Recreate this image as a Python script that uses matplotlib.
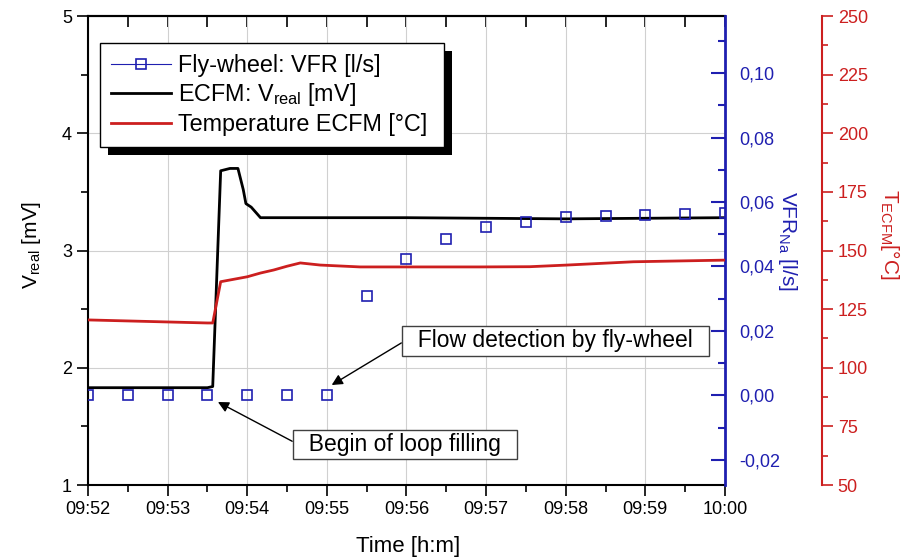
import numpy as np
import pandas as pd
import matplotlib
matplotlib.use('Agg')
import matplotlib.pyplot as plt
import matplotlib.dates as mdates
import matplotlib.ticker as mticker
from matplotlib.lines import Line2D
from matplotlib.patches import Rectangle

plt.rcParams['font.family'] = ['Liberation Sans', 'DejaVu Sans']
plt.rcParams['mathtext.fontset'] = 'custom'
plt.rcParams['mathtext.rm'] = 'Liberation Sans'
plt.rcParams['mathtext.it'] = 'Liberation Sans:italic'

BLUE = '#1f1fb0'
RED = '#cc1f1f'

# ECFM voltage signal [mV]
v_time = ['09:52:00', '09:53:30', '09:53:34', '09:53:40', '09:53:47', '09:53:53',
          '09:53:57', '09:53:59', '09:54:03', '09:54:10', '09:56:00', '09:58:00', '10:00:00']
v_real = [1.83, 1.83, 1.84, 3.68, 3.70, 3.70, 3.52, 3.40, 3.37, 3.28, 3.28, 3.27, 3.28]

# ECFM temperature [degC]
t_time = ['09:52:00', '09:53:30', '09:53:34', '09:53:40', '09:54:00', '09:54:10', '09:54:20',
          '09:54:30', '09:54:40', '09:54:55', '09:55:25', '09:56:55', '09:57:33', '09:58:01',
          '09:58:51', '10:00:00']
t_ecfm = [120.4, 119.1, 119.1, 136.7, 138.8, 140.4, 141.7, 143.3, 144.7, 143.8, 143.0,
          143.0, 143.1, 143.8, 145.2, 145.9]

# fly-wheel volume flow rate [l/s], one reading every 30 s
f_time = ['09:52:00', '09:52:30', '09:53:00', '09:53:30', '09:54:00', '09:54:30',
          '09:55:00', '09:55:30', '09:56:00', '09:56:30', '09:57:00', '09:57:30',
          '09:58:00', '09:58:30', '09:59:00', '09:59:30', '10:00:00']
f_vfr = [0.0, 0.0, 0.0, 0.0, 0.0, 0.0, 0.0, 0.0307, 0.0422, 0.0485, 0.0522, 0.0539,
         0.0552, 0.0557, 0.0560, 0.0562, 0.0565]

vt = pd.to_datetime(v_time, format='%H:%M:%S')
tt = pd.to_datetime(t_time, format='%H:%M:%S')
ft = pd.to_datetime(f_time, format='%H:%M:%S')

fig = plt.figure(figsize=(9.06, 5.6), dpi=100)
ax = fig.add_axes([0.0971, 0.1339, 0.7031, 0.8375])
ax2 = ax.twinx()
ax3 = ax.twinx()

ax.plot(vt, v_real, color='black', lw=2)
ax2.plot(ft, f_vfr, ls='none', marker='s', ms=6.5, mfc='none', mec=BLUE, mew=1.2)
ax3.plot(tt, t_ecfm, color=RED, lw=2)

# main axis (V_real)
ax.set_xlim(ft[0], ft[-1])
ax.set_ylim(1, 5)
ax.xaxis.set_major_locator(mdates.MinuteLocator())
ax.xaxis.set_minor_locator(mdates.SecondLocator(bysecond=[30]))
ax.xaxis.set_major_formatter(mdates.DateFormatter('%H:%M'))
ax.yaxis.set_major_locator(mticker.MultipleLocator(1))
ax.yaxis.set_minor_locator(mticker.MultipleLocator(0.5))
ax.tick_params(which='major', direction='out', length=8, width=1.2, labelsize=13)
ax.tick_params(which='minor', direction='out', length=5, width=1.2)
ax.grid(True, which='major', color='#d0d0d0', lw=0.8)
ax.set_axisbelow(True)
for s in ['left', 'bottom', 'top']:
    ax.spines[s].set_linewidth(1.5)
ax.spines['right'].set_visible(False)

top = ax.secondary_xaxis('top')
top.xaxis.set_major_locator(mdates.MinuteLocator())
top.xaxis.set_minor_locator(mdates.SecondLocator(bysecond=[30]))
top.tick_params(which='both', direction='in', length=8, width=1.2, labeltop=False)
top.spines['top'].set_linewidth(1.5)

ax.set_xlabel('Time [h:m]', fontsize=16)
ax.xaxis.set_label_coords(0.502, -0.108)
ax.set_ylabel('V$_{\\mathrm{real}}$ [mV]', fontsize=15)
ax.yaxis.set_label_coords(-0.071, 0.512)

# VFR axis
ax2.set_ylim(-0.0278, 0.1177)
ax2.yaxis.set_major_locator(mticker.MultipleLocator(0.02))
ax2.yaxis.set_minor_locator(mticker.MultipleLocator(0.01))
ax2.yaxis.set_major_formatter(mticker.FuncFormatter(
    lambda v, p: f'{0.0 if abs(v) < 1e-9 else v:.2f}'.replace('.', ',')))
for s in ['left', 'top', 'bottom']:
    ax2.spines[s].set_visible(False)
ax2.spines['right'].set_color(BLUE)
ax2.spines['right'].set_linewidth(2)
ax2.tick_params(axis='y', which='major', direction='in', length=10, width=1.5,
                colors=BLUE, labelsize=13, pad=10)
ax2.tick_params(axis='y', which='minor', direction='in', length=5, width=1.5, colors=BLUE)
ax2.set_ylabel('VFR$_{\\mathrm{Na}}$ [l/s]', fontsize=15, color=BLUE,
               rotation=270, va='bottom')
ax2.yaxis.set_label_coords(1.08, 0.52)

# temperature axis
ax3.set_ylim(50, 250)
ax3.spines['right'].set_position(('axes', 1.152))
for s in ['left', 'top', 'bottom']:
    ax3.spines[s].set_visible(False)
ax3.spines['right'].set_color(RED)
ax3.spines['right'].set_linewidth(1.5)
ax3.yaxis.set_major_locator(mticker.MultipleLocator(25))
ax3.yaxis.set_minor_locator(mticker.MultipleLocator(12.5))
ax3.tick_params(axis='y', which='major', direction='out', length=8, width=1.2,
                colors=RED, labelsize=13)
ax3.tick_params(axis='y', which='minor', direction='out', length=4, width=1.2, colors=RED)
ax3.set_ylabel('T$_{\\mathrm{ECFM}}$[°C]', fontsize=15, color=RED, rotation=270, va='bottom')
ax3.yaxis.set_label_coords(1.240, 0.534)

# annotations
box = dict(boxstyle='square,pad=0.15', fc='white', ec='#404040', lw=1)
ax3.annotate('  Flow detection by fly-wheel  ', xy=(0.3826, 0.2132), xycoords='axes fraction',
             xytext=(0.734, 0.308), textcoords='axes fraction', ha='center', va='center',
             fontsize=16.5, bbox=box,
             arrowprops=dict(arrowstyle='-|>', color='black', lw=1, shrinkA=0, shrinkB=0,
                             relpos=(0, 0.5), mutation_scale=16))
ax3.annotate('  Begin of loop filling  ', xy=(0.204, 0.177), xycoords='axes fraction',
             xytext=(0.4976, 0.0864), textcoords='axes fraction', ha='center', va='center',
             fontsize=16.5, bbox=box,
             arrowprops=dict(arrowstyle='-|>', color='black', lw=1, shrinkA=0, shrinkB=0,
                             relpos=(0, 0.55), mutation_scale=16))

# legend with a solid drop shadow
handles = [
    Line2D([], [], color=BLUE, lw=0.8, marker='s', ms=6.5, mfc='none', mec=BLUE, mew=1.2),
    Line2D([], [], color='black', lw=2),
    Line2D([], [], color=RED, lw=2),
]
labels = ['Fly-wheel: VFR [l/s] ', 'ECFM: V$_{\\mathrm{real}}$ [mV] ', 'Temperature ECFM [°C] ']
leg = ax3.legend(handles, labels, loc='upper left', bbox_to_anchor=(0.019, 0.942),
                 borderaxespad=0, fontsize=16.8, fancybox=False, edgecolor='black',
                 framealpha=1, handlelength=2.6, handletextpad=0.3, labelspacing=0.2,
                 borderpad=0.45)
leg.get_frame().set_linewidth(1.0)
fig.canvas.draw()
bb = leg.get_window_extent().transformed(ax3.transAxes.inverted())
ax3.add_patch(Rectangle((bb.x0 + 8 / 637, bb.y0 - 8 / 469), bb.width, bb.height,
                        transform=ax3.transAxes, fc='black', ec='none', zorder=4.9,
                        clip_on=False))

fig.savefig('out.png', dpi=100)
